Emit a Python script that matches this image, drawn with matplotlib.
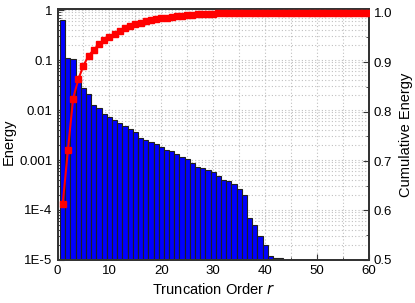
import matplotlib
matplotlib.use("Agg")
import matplotlib.pyplot as plt
from matplotlib.ticker import FixedLocator, MultipleLocator, LogLocator, NullFormatter

plt.rcParams['font.family'] = ['Liberation Sans', 'DejaVu Sans']

# energy per truncation order (bars, left log axis)
order = list(range(1, 44))
energy = [0.62, 0.11, 0.104, 0.041, 0.028, 0.0205, 0.0128, 0.011, 0.0085, 0.0072,
          0.0062, 0.0054, 0.0049, 0.0041, 0.0036, 0.0028, 0.0025, 0.0023, 0.0021, 0.0018,
          0.0016, 0.0015, 0.00134, 0.00117, 0.00103, 0.00089, 0.00073, 0.00069, 0.00062, 0.00058,
          0.00049, 0.0004, 0.00038, 0.00033, 0.00026, 0.0002, 7.0e-5, 4.9e-5, 3.0e-5, 1.95e-5,
          1.2e-5, 1.1e-5, 1.08e-5]

# cumulative energy (red line, right axis)
order_cum = list(range(1, 61))
cum_energy = [0.613, 0.722, 0.826, 0.865, 0.893, 0.913, 0.925, 0.936, 0.944, 0.951,
              0.957, 0.963, 0.968, 0.972, 0.976, 0.979, 0.982, 0.984, 0.986, 0.988,
              0.990, 0.991, 0.993, 0.994, 0.995, 0.996, 0.9965, 0.997, 0.9975, 0.998,
              0.9985, 0.999, 0.9993, 0.9995, 0.9997, 0.9998, 0.9999, 0.9999, 0.9999, 0.9999,
              0.9999, 0.9999, 0.9999, 0.9999, 0.9999, 0.9999, 0.9999, 0.9999, 0.9999, 0.9999,
              0.9999, 0.9999, 0.9999, 0.9999, 0.9999, 0.9999, 0.9999, 0.9999, 0.9999, 0.9999]

ytick_vals = [1e-5, 1e-4, 1e-3, 1e-2, 1e-1, 1]
ytick_labels = ['1E-5', '1E-4', '0.001', '0.01', '0.1', '1']

fig = plt.figure(figsize=(4.15, 3.03), dpi=100)
ax = fig.add_axes([0.1386, 0.142, 0.7504, 0.828])
ax2 = ax.twinx()

grid_kw = dict(color='#c0c0c0', linestyle=(0, (1, 2)), linewidth=0.8)

ax.bar(order, energy, width=1.0, color='#0000ff', edgecolor='#202020', linewidth=0.8, zorder=2)
ax.set_yscale('log')
ax.set_ylim(1e-5, 1.047)
ax.set_xlim(0, 60)
ax.yaxis.set_major_locator(FixedLocator(ytick_vals))
ax.set_yticklabels(ytick_labels)
ax.yaxis.set_minor_locator(LogLocator(base=10, subs=range(2, 10)))
ax.yaxis.set_minor_formatter(NullFormatter())
ax.xaxis.set_major_locator(MultipleLocator(10))
ax.xaxis.set_minor_locator(MultipleLocator(5))
ax.grid(True, which='both', axis='both', zorder=0, **grid_kw)
ax.set_axisbelow(True)

ax2.plot(order_cum, cum_energy, color='#ff0000', linewidth=1.5, marker='s',
         markersize=5, markeredgecolor='#ff0000', zorder=3)
ax2.set_ylim(0.5, 1.007)
ax2.yaxis.set_major_locator(FixedLocator([0.5, 0.6, 0.7, 0.8, 0.9, 1.0]))
ax2.yaxis.set_minor_locator(MultipleLocator(0.05))

for a in (ax, ax2):
    a.tick_params(which='both', direction='in', labelsize=9.5, colors='#333333',
                  labelcolor='black')
    a.tick_params(which='major', length=4)
    a.tick_params(which='minor', length=2)
    for s in a.spines.values():
        s.set_linewidth(1.3)
        s.set_color('#333333')
ax.tick_params(top=False, right=False)

ax.set_xlabel('Truncation Order $\\it{r}$', fontsize=10.5, labelpad=4)
ax.set_ylabel('Energy', fontsize=10.5)
ax.yaxis.set_label_coords(-0.135, 0.47)
ax2.set_ylabel('Cumulative Energy', fontsize=10.5)
ax2.yaxis.set_label_coords(1.096, 0.5)

fig.savefig('out.png', dpi=100)
